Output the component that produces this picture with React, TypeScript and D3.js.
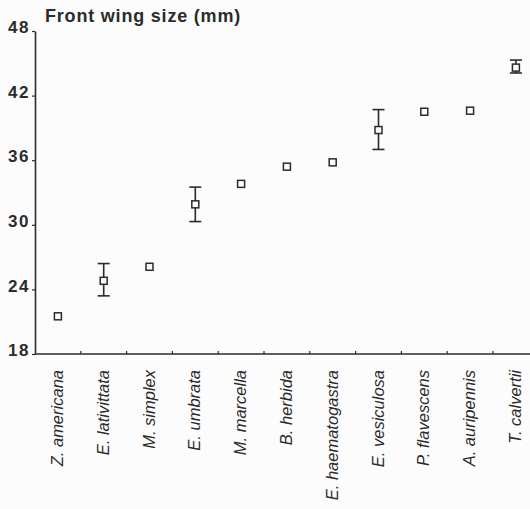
import React, { useEffect, useRef } from 'react';
import * as d3 from 'd3';

// species along the x axis, in plotted order
const species = [
  'Z. americana', 'E. lativittata', 'M. simplex', 'E. umbrata', 'M. marcella',
  'B. herbida', 'E. haematogastra', 'E. vesiculosa', 'P. flavescens',
  'A. auripennis', 'T. calvertii',
];
// mean front wing size (mm)
const means = [21.5, 24.8, 26.1, 31.9, 33.8, 35.4, 35.8, 38.8, 40.5, 40.6, 44.6];
// error bar ends (null = no visible bar)
const lowers = [null, 23.4, null, 30.3, null, null, null, 37.0, null, null, 44.1];
const uppers = [null, 26.4, null, 33.5, null, null, null, 40.7, null, null, 45.3];
const yTicks = [18, 24, 30, 36, 42, 48];

const W = 530;
const H = 509;
const ink = '#2b2b2b';

const App = () => {
  const svgRef = useRef<SVGSVGElement>(null);

  useEffect(() => {
    const svg = d3.select(svgRef.current);
    svg.selectAll('*').remove();

    const left = 35, top = 31, bottom = 354;

    const x = d3.scaleBand<string>()
      .domain(species)
      .range([left, left + 45.8 * species.length])
      .padding(0);
    const y = d3.scaleLinear().domain([18, 48]).range([bottom, top]);

    svg.append('rect').attr('width', W).attr('height', H).attr('fill', '#fcfcfc');

    // y axis
    const yAxis = svg.append('g')
      .attr('transform', `translate(${left},0)`)
      .call(d3.axisLeft(y).tickValues(yTicks).tickSize(3).tickSizeOuter(0).tickFormat(d3.format('d')));
    yAxis.select('.domain').attr('stroke', ink).attr('stroke-width', 1.6);
    yAxis.selectAll('.tick line').attr('stroke', ink).attr('stroke-width', 1.2);
    yAxis.selectAll('.tick text')
      .attr('fill', ink)
      .attr('font-family', '"Liberation Sans", Arial, sans-serif')
      .attr('font-weight', 'bold')
      .attr('font-size', 17)
      .attr('x', -5)
      .attr('dy', '0.1em')
      .attr('letter-spacing', 1.5);

    // x axis: ticks at band boundaries
    const xg = svg.append('g');
    xg.append('line')
      .attr('x1', left).attr('x2', W)
      .attr('y1', bottom).attr('y2', bottom)
      .attr('stroke', ink).attr('stroke-width', 1.6);
    xg.selectAll('line.tk')
      .data(species.slice(1))
      .join('line')
      .attr('class', 'tk')
      .attr('x1', d => x(d)!).attr('x2', d => x(d)!)
      .attr('y1', bottom).attr('y2', bottom - 3)
      .attr('stroke', ink).attr('stroke-width', 1.2);

    xg.selectAll('text')
      .data(species)
      .join('text')
      .attr('transform', d => `translate(${x(d)! + x.bandwidth() / 2 + 5},${bottom + 16}) rotate(-90)`)
      .attr('text-anchor', 'end')
      .attr('fill', ink)
      .attr('font-family', '"Liberation Sans", Arial, sans-serif')
      .attr('font-style', 'italic')
      .attr('font-size', 16.5)
      .text(d => d);

    // title
    svg.append('text')
      .attr('x', 45).attr('y', 22)
      .attr('fill', ink)
      .attr('font-family', '"Liberation Sans", Arial, sans-serif')
      .attr('font-weight', 'bold')
      .attr('font-size', 18)
      .attr('letter-spacing', 0.8)
      .text('Front wing size (mm)');

    const pts = species.map((s, i) => ({ s, m: means[i], lo: lowers[i], hi: uppers[i] }));
    const cx = (d: { s: string }) => x(d.s)! + x.bandwidth() / 2;

    // error bars
    const eb = svg.append('g').attr('stroke', ink).attr('stroke-width', 1.6);
    const withBars = pts.filter(d => d.lo !== null && d.hi !== null);
    eb.selectAll('line.v').data(withBars).join('line')
      .attr('x1', cx).attr('x2', cx)
      .attr('y1', d => y(d.lo as number)).attr('y2', d => y(d.hi as number));
    eb.selectAll('line.hi').data(withBars).join('line')
      .attr('class', 'hi')
      .attr('x1', d => cx(d) - 6).attr('x2', d => cx(d) + 6)
      .attr('y1', d => y(d.hi as number)).attr('y2', d => y(d.hi as number));
    eb.selectAll('line.lo').data(withBars).join('line')
      .attr('class', 'lo')
      .attr('x1', d => cx(d) - 6).attr('x2', d => cx(d) + 6)
      .attr('y1', d => y(d.lo as number)).attr('y2', d => y(d.lo as number));

    // mean markers
    svg.append('g').selectAll('rect').data(pts).join('rect')
      .attr('x', d => cx(d) - 3.5)
      .attr('y', d => y(d.m) - 3.5)
      .attr('width', 7).attr('height', 7)
      .attr('fill', '#fcfcfc')
      .attr('stroke', ink).attr('stroke-width', 1.5);
  }, []);

  return (
    <div style={{ position: 'absolute', left: 0, top: 0 }}>
      <svg ref={svgRef} width={W} height={H} style={{ display: 'block' }} />
    </div>
  );
};

export default App;
